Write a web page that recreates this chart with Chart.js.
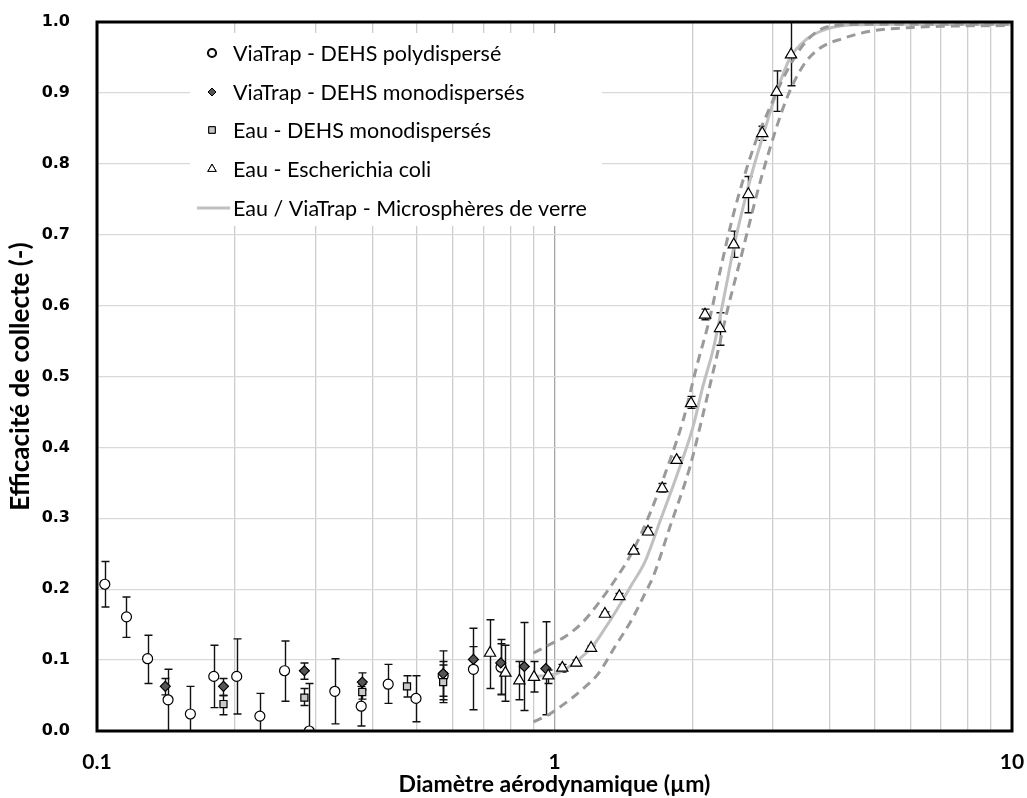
<!DOCTYPE html>
<html>
<head>
<meta charset="utf-8">
<script src="https://cdn.jsdelivr.net/npm/chart.js@4/dist/chart.umd.min.js"></script>
<style>
  html, body { margin: 0; padding: 0; background: #fff; }
  #wrap { width: 1027px; height: 798px; }
</style>
</head>
<body>
<div id="wrap"><canvas id="effChart" width="1027" height="798"></canvas></div>
<script>
// ViaTrap - DEHS polydispersé
const polyX    = [0.104, 0.116, 0.129, 0.143, 0.160, 0.180, 0.202, 0.227, 0.257, 0.291, 0.331, 0.378, 0.433, 0.498, 0.571, 0.665, 0.764];
const polyY    = [0.207, 0.161, 0.102, 0.044, 0.024, 0.077, 0.077, 0.021, 0.085, 0.000, 0.056, 0.035, 0.066, 0.046, 0.078, 0.087, 0.090];
const polyLow  = [0.175, 0.132, 0.067, 0.000, 0.000, 0.033, 0.024, 0.000, 0.042, 0.000, 0.010, 0.007, 0.039, 0.013, 0.040, 0.030, 0.052];
const polyHigh = [0.239, 0.189, 0.135, 0.087, 0.063, 0.121, 0.130, 0.053, 0.127, 0.067, 0.102, 0.063, 0.094, 0.078, 0.113, 0.145, 0.123];

// ViaTrap - DEHS monodispersés
const viaMonoX    = [0.141, 0.189, 0.284, 0.380, 0.571, 0.665, 0.763, 0.859, 0.957];
const viaMonoY    = [0.063, 0.063, 0.085, 0.069, 0.081, 0.101, 0.096, 0.091, 0.088];
const viaMonoLow  = [0.051, 0.050, 0.073, 0.058, 0.049, 0.083, 0.051, 0.029, 0.023];
const viaMonoHigh = [0.074, 0.074, 0.096, 0.082, 0.098, 0.119, 0.129, 0.153, 0.154];

// Eau - DEHS monodispersés
const eauMonoX    = [0.189, 0.284, 0.380, 0.476, 0.571];
const eauMonoY    = [0.038, 0.047, 0.055, 0.063, 0.069];
const eauMonoLow  = [0.023, 0.036, 0.045, 0.048, 0.044];
const eauMonoHigh = [0.050, 0.060, 0.066, 0.078, 0.093];

// Eau - Escherichia coli
const coliX    = [0.723, 0.781, 0.838, 0.902, 0.969, 1.04, 1.116, 1.202, 1.289, 1.386, 1.490, 1.601, 1.720, 1.849, 1.988, 2.133, 2.30, 2.465, 2.653, 2.845, 3.059, 3.288];
const coliY    = [0.110, 0.082, 0.071, 0.076, 0.078, 0.089, 0.096, 0.117, 0.165, 0.190, 0.254, 0.281, 0.342, 0.382, 0.462, 0.587, 0.568, 0.686, 0.757, 0.843, 0.901, 0.954];
const coliLow  = [0.060, 0.042, 0.044, 0.055, 0.067, 0.083, 0.092, 0.113, 0.162, 0.187, 0.251, 0.277, 0.337, 0.378, 0.455, 0.580, 0.544, 0.668, 0.731, 0.833, 0.874, 0.910];
const coliHigh = [0.157, 0.121, 0.098, 0.098, 0.086, 0.094, 0.100, 0.120, 0.168, 0.194, 0.257, 0.287, 0.349, 0.386, 0.472, 0.595, 0.590, 0.705, 0.782, 0.853, 0.931, 1.000];

// Eau / ViaTrap - Microsphères de verre (mean curve + bounds)
const glassX = [0.90, 1.00, 1.06, 1.125, 1.21, 1.29, 1.38, 1.47, 1.58, 1.71, 1.85, 2.01, 2.11, 2.22, 2.34, 2.48, 2.67, 2.86, 3.06, 3.27, 3.56, 3.93, 4.5, 5.5, 7.0, 10];
const glassY = [0.077, 0.080, 0.088, 0.100, 0.119, 0.145, 0.175, 0.205, 0.240, 0.300, 0.360, 0.430, 0.486, 0.537, 0.608, 0.690, 0.775, 0.841, 0.902, 0.949, 0.976, 0.990, 0.996, 0.997, 0.997, 0.997];
const upperX = [0.90, 0.97, 1.054, 1.147, 1.247, 1.356, 1.475, 1.617, 1.788, 1.912, 2.045, 2.188, 2.30, 2.459, 2.72, 2.909, 3.217, 3.50, 3.80, 4.3, 5.0, 10];
const upperY = [0.110, 0.121, 0.133, 0.152, 0.180, 0.213, 0.251, 0.307, 0.382, 0.439, 0.514, 0.584, 0.648, 0.728, 0.822, 0.869, 0.930, 0.968, 0.989, 0.996, 0.997, 0.997];
const lowerX = [0.90, 0.97, 1.054, 1.147, 1.247, 1.356, 1.475, 1.577, 1.644, 1.788, 1.978, 2.114, 2.262, 2.378, 2.586, 2.766, 2.958, 3.217, 3.50, 3.80, 4.28, 4.9, 5.9, 7.0, 10];
const lowerY = [0.013, 0.023, 0.039, 0.058, 0.081, 0.119, 0.157, 0.194, 0.218, 0.288, 0.373, 0.448, 0.528, 0.589, 0.681, 0.756, 0.822, 0.892, 0.939, 0.963, 0.977, 0.987, 0.992, 0.994, 0.995];

// axes
const xGridTicks = [0.1, 0.2, 0.3, 0.4, 0.5, 0.6, 0.7, 0.8, 0.9, 1, 2, 3, 4, 5, 6, 7, 8, 9, 10];
const xLabelTicks = [0.1, 1, 10];

const toPoints = (xs, ys) => xs.map((x, i) => ({ x, y: ys[i] }));

// error bars under the markers, drawn through the chart scales
const errorBars = {
  id: 'errorBars',
  beforeDatasetsDraw(chart) {
    const { ctx, scales: { x, y } } = chart;
    ctx.save();
    ctx.strokeStyle = '#111';
    ctx.lineWidth = 1.4;
    chart.data.datasets.forEach((ds) => {
      if (!ds.errLow) return;
      ds.data.forEach((p, j) => {
        const px = Math.round(x.getPixelForValue(p.x)) + 0.5;
        const top = y.getPixelForValue(ds.errHigh[j]);
        const bot = y.getPixelForValue(ds.errLow[j]);
        ctx.beginPath();
        ctx.moveTo(px, top); ctx.lineTo(px, bot);
        ctx.moveTo(px - 4, top); ctx.lineTo(px + 4, top);
        ctx.moveTo(px - 4, bot); ctx.lineTo(px + 4, bot);
        ctx.stroke();
      });
    });
    ctx.restore();
  }
};

// frame + legend box inside the plot
const frameAndLegend = {
  id: 'frameAndLegend',
  afterDraw(chart) {
    const { ctx, chartArea: a } = chart;
    ctx.save();
    ctx.strokeStyle = '#000';
    ctx.lineWidth = 3;
    ctx.strokeRect(a.left, a.top, a.right - a.left, a.bottom - a.top);

    ctx.fillStyle = '#fff';
    ctx.fillRect(190, 33, 412, 193);

    const rowY = [53, 92, 130, 169, 208];
    ctx.font = '21.5px Lato';
    ctx.textBaseline = 'middle';
    chart.data.datasets.forEach((ds, i) => {
      if (!ds.legendLabel) return;
      const yy = rowY[i];
      if (ds.showLine) {
        ctx.strokeStyle = ds.borderColor;
        ctx.lineWidth = 3;
        ctx.setLineDash([]);
        ctx.beginPath(); ctx.moveTo(197, yy); ctx.lineTo(230, yy); ctx.stroke();
      } else {
        Chart.helpers.drawPoint(ctx, {
          pointStyle: ds.pointStyle,
          radius: ds.legendRadius,
          borderWidth: 1,
          rotation: 0
        }, 212, yy);
        ctx.fillStyle = ds.backgroundColor;
        ctx.strokeStyle = '#000';
        ctx.lineWidth = 1;
        ctx.fill(); ctx.stroke();
      }
      ctx.fillStyle = '#000';
      ctx.fillText(ds.legendLabel, 233, yy + 1);
    });
    ctx.restore();
  }
};

const markerBase = { type: 'scatter', borderColor: '#000', borderWidth: 1.2, showLine: false };

new Chart(document.getElementById('effChart'), {
  data: {
    datasets: [
      { ...markerBase, label: 'poly', legendLabel: 'ViaTrap - DEHS polydispersé',
        data: toPoints(polyX, polyY), errLow: polyLow, errHigh: polyHigh,
        pointStyle: 'circle', pointRadius: 5, backgroundColor: '#fff', legendRadius: 3.6, order: 4 },
      { ...markerBase, label: 'viaMono', legendLabel: 'ViaTrap - DEHS monodispersés',
        data: toPoints(viaMonoX, viaMonoY), errLow: viaMonoLow, errHigh: viaMonoHigh,
        pointStyle: 'rectRot', pointRadius: 5, backgroundColor: '#555555', legendRadius: 4, order: 3 },
      { ...markerBase, label: 'eauMono', legendLabel: 'Eau - DEHS monodispersés',
        data: toPoints(eauMonoX, eauMonoY), errLow: eauMonoLow, errHigh: eauMonoHigh,
        pointStyle: 'rect', pointRadius: 5, backgroundColor: '#c8c8c8', legendRadius: 4.6, order: 2 },
      { ...markerBase, label: 'coli', legendLabel: 'Eau - Escherichia coli',
        data: toPoints(coliX, coliY), errLow: coliLow, errHigh: coliHigh,
        pointStyle: 'triangle', pointRadius: 6.5, backgroundColor: '#fff', legendRadius: 4.8, order: 1 },
      { type: 'line', label: 'glass', legendLabel: 'Eau / ViaTrap - Microsphères de verre',
        data: toPoints(glassX, glassY), borderColor: '#c0c0c0', borderWidth: 3,
        pointRadius: 0, showLine: true, cubicInterpolationMode: 'monotone', order: 6 },
      { type: 'line', label: 'upper', data: toPoints(upperX, upperY), borderColor: '#9a9a9a',
        borderWidth: 3, borderDash: [9, 6], pointRadius: 0, showLine: true,
        cubicInterpolationMode: 'monotone', order: 5 },
      { type: 'line', label: 'lower', data: toPoints(lowerX, lowerY), borderColor: '#9a9a9a',
        borderWidth: 3, borderDash: [9, 6], pointRadius: 0, showLine: true,
        cubicInterpolationMode: 'monotone', order: 5 }
    ]
  },
  options: {
    responsive: false,
    animation: false,
    layout: { padding: { top: 22, right: 15, left: 0, bottom: 0 } },
    plugins: {
      legend: { display: false },
      tooltip: { enabled: false }
    },
    scales: {
      x: {
        type: 'logarithmic',
        position: 'bottom',
        min: 0.1,
        max: 10,
        afterBuildTicks: (scale) => { scale.ticks = xGridTicks.map((v) => ({ value: v })); },
        afterFit: (scale) => {
          scale.height = 67;
          scale.paddingLeft = 0;
          scale.paddingRight = 0;
        },
        ticks: {
          autoSkip: false,
          maxRotation: 0,
          padding: 19,
          color: '#000',
          font: { family: 'Lato', weight: 'bold', size: 21 },
          callback: (v) => (xLabelTicks.includes(v) ? String(v) : '')
        },
        grid: {
          drawTicks: false,
          color: (c) => (c.tick && c.tick.value === 1 ? '#a6a6a6' : '#cdcdcd'),
          lineWidth: 1.3
        },
        border: { display: false },
        title: {
          display: true,
          text: 'Diamètre aérodynamique (µm)',
          color: '#000',
          font: { family: 'Lato', weight: 'bold', size: 23 },
          padding: { top: 0, bottom: 0 }
        }
      },
      y: {
        min: 0,
        max: 1,
        afterFit: (scale) => {
          scale.width = 97;
          scale.paddingTop = 0;
          scale.paddingBottom = 0;
        },
        ticks: {
          stepSize: 0.1,
          padding: 27,
          color: '#000',
          font: { family: 'DejaVu Sans', weight: 'bold', size: 16 },
          callback: (v) => v.toFixed(1)
        },
        grid: { drawTicks: false, color: '#d9d9d9', lineWidth: 1.3 },
        border: { display: false },
        title: {
          display: true,
          text: 'Efficacité de collecte (-)',
          color: '#000',
          font: { family: 'Lato', weight: 'bold', size: 26 },
          padding: { top: 5, bottom: 0 }
        }
      }
    }
  },
  plugins: [errorBars, frameAndLegend]
});
</script>
</body>
</html>
